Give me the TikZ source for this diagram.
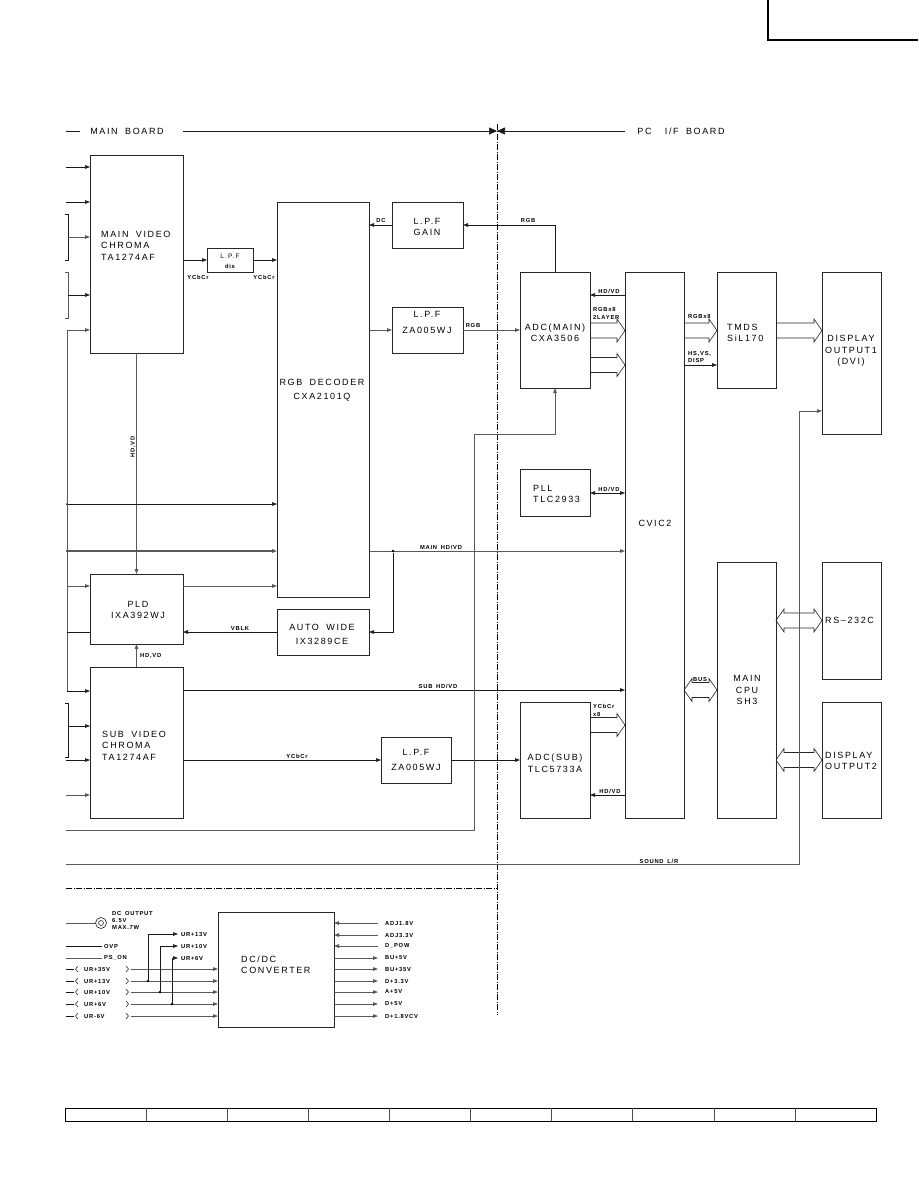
\documentclass[tikz,border=0pt]{standalone}
\usepackage{fontspec}
\setmainfont{Liberation Sans}
\newfontfamily\bigfont[LetterSpace=18,WordSpace=1.8]{Liberation Sans}
\newfontfamily\smallfont[LetterSpace=13,WordSpace=1.6]{Liberation Sans}
\usetikzlibrary{arrows.meta,calc}
\tikzset{
 box/.style={draw=black!85, line width=0.7pt, inner sep=0pt, outer sep=0pt},
 ln/.style={draw=black!90, line width=0.6pt},
 gln/.style={draw=black!65, line width=0.9pt},
 arr/.style={-{Triangle[length=5pt,width=3.6pt]}},
 darr/.style={{Triangle[length=5pt,width=3.6pt]}-{Triangle[length=5pt,width=3.6pt]}},
 hdarr/.style={-{Triangle[length=8pt,width=7pt]}},
 big/.style={font=\bigfont\fontsize{9}{11.5}\selectfont, inner sep=0pt},
 sm/.style={font=\smallfont\bfseries\fontsize{5.8}{7.5}\selectfont, inner sep=0pt},
 psm/.style={font=\smallfont\bfseries\fontsize{5.8}{7}\selectfont, inner sep=0pt},
 jdot/.style={circle, fill=black, inner sep=0pt, minimum size=2.6pt},
 bus/.style={draw=black!85, line width=0.6pt},
 dashdot/.style={draw=black, line width=0.7pt, dash pattern=on 6pt off 1.5pt on 1pt off 1.5pt},
}
\newcommand{\bx}[5]{\node[box, minimum width={(#4-#2)*1pt}, minimum height={(#5-#3)*1pt}] (#1) at ({(#2+#4)/2},{(#3+#5)/2}) {};}
\newcommand{\busa}[2]{\draw[bus] ($(#1)+(0,-7.5)$) -- ($(#2)+(-8,-7.5)$) -- ($(#2)+(-8,-11.5)$) -- (#2) -- ($(#2)+(-8,11.5)$) -- ($(#2)+(-8,7.5)$) -- ($(#1)+(0,7.5)$);}
\newcommand{\busb}[2]{\draw[bus] ($(#1)+(8,-7.5)$) -- ($(#2)+(-8,-7.5)$) -- ($(#2)+(-8,-11.5)$) -- (#2) -- ($(#2)+(-8,11.5)$) -- ($(#2)+(-8,7.5)$) -- ($(#1)+(8,7.5)$) -- ($(#1)+(8,11.5)$) -- (#1) -- ($(#1)+(8,-11.5)$) -- cycle;}
\begin{document}
\begin{tikzpicture}[x=1pt,y=-1pt]
\useasboundingbox (0,0) rectangle (918,1188);
\fill[white] (0,0) rectangle (918,1188);
% corner
\draw[line width=1.6pt] (768,0) -- (768,40) -- (918,40);
% header
\node[big] (mb) at (127,131) {MAIN BOARD};
\node[big] (pcb) at (681,131) {PC\hspace{6pt} I/F BOARD};
\coordinate (hl0) at (66,131); \coordinate (hl1) at (80,131);
\coordinate (hl2) at (183,131); \coordinate (hmid) at (497,131); \coordinate (hr) at (625,131);
\draw[ln] (hl0) -- (hl1);
\draw[ln,hdarr] (hl2) -- (hmid);
\draw[ln,hdarr] (hr) -- (hmid);
\draw[dashdot] (497,124) -- (497,1015);
\draw[dashdot] (66,888) -- (497,888);
% boxes
\bx{mainv}{90}{155}{183}{353}
\bx{lpfd}{207}{248}{253}{272}
\bx{rgbd}{277}{202}{369}{597}
\bx{lpfg}{392}{202}{463}{248}
\bx{lpfz}{392}{307}{463}{353}
\bx{adcm}{520}{272}{590}{388}
\bx{cvic}{625}{272}{684}{818}
\bx{tmds}{717}{272}{776}{388}
\bx{dsp1}{822}{272}{881}{434}
\bx{pll}{520}{469}{590}{516}
\bx{pld}{90}{574}{183}{644}
\bx{awide}{277}{609}{369}{655}
\bx{subv}{90}{667}{183}{818}
\bx{lpfs}{381}{737}{451}{783}
\bx{adcs}{520}{702}{590}{818}
\bx{cpu}{717}{562}{776}{818}
\bx{rs}{822}{562}{881}{679}
\bx{dsp2}{822}{702}{881}{818}
\bx{dcdc}{218}{912}{334}{1027}
% box texts
\node[big, anchor=west, align=left] (tmainv) at (101,245.5) {MAIN VIDEO\\CHROMA\\TA1274AF};
\node[font=\bigfont\fontsize{6.5}{8}\selectfont, inner sep=0pt] (tlpfd1) at (230,256) {L.P.F};
\node[sm] (tlpfd2) at (230,266) {dis};
\node[big, align=center] (trgbd) at (322,390) {RGB DECODER\\[2.5pt]CXA2101Q};
\node[big, align=center] (tlpfg) at (427,227) {L.P.F\\GAIN};
\node[big, align=center] (tlpfz) at (427,322) {L.P.F\\[4.5pt]ZA005WJ};
\node[big, align=center] (tadcm) at (555,333) {ADC(MAIN)\\CXA3506};
\node[big, anchor=west, align=left] (ttmds) at (727,333) {TMDS\\SiL170};
\node[big, align=center] (tdsp1) at (851,351) {DISPLAY\\OUTPUT1\\(DVI)};
\node[big] (tcvic) at (655,523) {CVIC2};
\node[big, anchor=west, align=left] (tpll) at (533,494) {PLL\\TLC2933};
\node[big, align=center] (tpld) at (138,610) {PLD\\IXA392WJ};
\node[big, align=center] (tawide) at (322,634) {AUTO WIDE\\[2.5pt]IX3289CE};
\node[big, anchor=west, align=left] (tsubv) at (102,745.5) {SUB VIDEO\\CHROMA\\TA1274AF};
\node[big, align=center] (tlpfs) at (416,760) {L.P.F\\[3.5pt]ZA005WJ};
\node[big, align=center] (tadcs) at (555,763.5) {ADC(SUB)\\TLC5733A};
\node[big, align=center] (tcpu) at (747,690) {MAIN\\CPU\\SH3};
\node[big, anchor=west] (trs) at (825,620) {RS–232C};
\node[big, anchor=west, align=left] (tdsp2) at (825,761) {DISPLAY\\OUTPUT2};
\node[big, anchor=west, align=left] (tdcdc) at (241,965) {DC/DC\\CONVERTER};
% main signal connectors
\draw[ln,arr] (mainv.east |- lpfd.west) -- (lpfd.west);
\draw[ln,arr] (lpfd.east) -- (rgbd.west |- lpfd.east);
\draw[ln,arr] (lpfg.west) -- (rgbd.east |- lpfg.west);
\draw[ln,arr] (adcm.north) -- (adcm.north |- lpfg.east) -- (lpfg.east);
\draw[gln,arr] (rgbd.east |- lpfz.west) -- (lpfz.west);
\draw[gln,arr] (lpfz.east) -- (adcm.west |- lpfz.east);
\draw[ln,arr] (cvic.west |- 0,295) -- (adcm.east |- 0,295);
\coordinate (b1s) at (adcm.east |- 0,330.5); \coordinate (b1e) at (cvic.west |- 0,330.5);
\coordinate (b2s) at (adcm.east |- 0,365); \coordinate (b2e) at (cvic.west |- 0,365);
\coordinate (b3s) at (cvic.east |- 0,330.5); \coordinate (b3e) at (tmds.west |- 0,330.5);
\coordinate (b4s) at (tmds.east |- 0,330.5); \coordinate (b4e) at (dsp1.west |- 0,330.5);
\busa{b1s}{b1e}
\busa{b2s}{b2e}
\busa{b3s}{b3e}
\busa{b4s}{b4e}
\draw[ln,arr] (cvic.east |- 0,365) -- (tmds.west |- 0,365);
\draw[ln,darr] (pll.east |- 0,493) -- (cvic.west |- 0,493);
\draw[gln,arr] (rgbd.east |- 0,551) -- (cvic.west |- 0,551);
\node[jdot] (j1) at (393,551) {};
\draw[ln,arr] (j1) -- (j1 |- 0,632) -- (awide.east |- 0,632);
\draw[ln,arr] (awide.west |- 0,632) -- (pld.east |- 0,632);
\draw[gln,arr] (pld.east |- 0,586) -- (rgbd.west |- 0,586);
\draw[gln,arr] (mainv.south) -- (pld.north);
\draw[gln,arr] (subv.north) -- (pld.south);
\draw[ln,arr] (subv.east |- 0,690) -- (cvic.west |- 0,690);
\draw[ln,arr] (subv.east |- lpfs.west) -- (lpfs.west);
\draw[ln,arr] (lpfs.east) -- (adcs.west |- lpfs.east);
\coordinate (b5s) at (adcs.east |- 0,725); \coordinate (b5e) at (cvic.west |- 0,725);
\busa{b5s}{b5e}
\draw[ln,arr] (cvic.west |- 0,795) -- (adcs.east |- 0,795);
\coordinate (b6s) at (cvic.east |- 0,690); \coordinate (b6e) at (cpu.west |- 0,690);
\busb{b6s}{b6e}
\coordinate (b7s) at (cpu.east |- rs.west);
\busb{b7s}{rs.west}
\coordinate (b8s) at (cpu.east |- dsp2.west);
\busb{b8s}{dsp2.west}
% left inputs
\coordinate (i1) at (66,167); \coordinate (i2) at (66,202);
\coordinate (i3) at (68,237); \coordinate (i4) at (68,295); \coordinate (i5) at (67,330);
\coordinate (i7) at (66,551); \coordinate (i8) at (67,586); \coordinate (i9) at (67,632);
\coordinate (i10) at (67,691); \coordinate (i11) at (68,726); \coordinate (i12) at (66,760);
\coordinate (i13) at (66,795); \coordinate (i14) at (66,830); \coordinate (i15) at (66,864);
\node[jdot, minimum size=2pt] (i6) at (67,504) {};
\draw[ln,arr] (i1) -- (mainv.west |- i1);
\draw[ln,arr] (i2) -- (mainv.west |- i2);
\draw[ln] (65,214) -- (68,214) -- (68,260) -- (65,260);
\draw[gln,arr] (i3) -- (mainv.west |- i3);
\draw[gln] (65,272) -- (68,272) -- (68,318) -- (65,318);
\draw[ln,arr] (i4) -- (mainv.west |- i4);
\draw[gln,arr] (i5) -- (mainv.west |- i5);
\draw[gln] (i5) -- (i10);
\draw[ln,arr] (i6) -- (rgbd.west |- i6);
\draw[gln,line width=1.2pt,arr] (i7) -- (rgbd.west |- i7);
\draw[gln,arr] (i8) -- (pld.west |- i8);
\draw[ln] (i9) -- (pld.west |- i9);
\draw[ln,arr] (i10) -- (subv.west |- i10);
\draw[ln] (65,703) -- (68,703) -- (68,757) -- (65,757);
\draw[ln,arr] (i11) -- (subv.west |- i11);
\draw[ln,arr] (i12) -- (subv.west |- i12);
\draw[gln,arr] (i13) -- (subv.west |- i13);
\coordinate (c1) at (474,830); \coordinate (c2) at (474,434);
\draw[gln,arr] (i14) -- (c1) -- (c2) -- (adcm.south |- c2) -- (adcm.south);
\coordinate (c3) at (799,864); \coordinate (c4) at (799,411);
\draw[gln,arr] (i15) -- (c3) -- (c4) -- (dsp1.west |- c4);
% small labels
\node[sm] (lyc1) at (198,277) {YCbCr};
\node[sm] (lyc2) at (264,277) {YCbCr};
\node[sm] (ldc) at (381,221) {DC};
\node[sm] (lrgb1) at (528,221) {RGB};
\node[sm] (lrgb2) at (473,326) {RGB};
\node[sm] (lhd1) at (609,291) {HD/VD};
\node[sm, anchor=west, align=left, font=\smallfont\bfseries\fontsize{5.8}{8}\selectfont] (lrgbx) at (593,313) {RGBx8\\2LAYER};
\node[sm, anchor=west] (lrgbx2) at (688,317) {RGBx8};
\node[sm, anchor=west, align=left] (lhs) at (688,357) {HS,VS,\\DISP};
\node[sm, rotate=90] (lhdv1) at (133,447) {HD,VD};
\node[sm] (lmhd) at (441,547) {MAIN HD/VD};
\node[sm] (lvblk) at (240,628) {VBLK};
\node[sm] (lhd2) at (609,489) {HD/VD};
\node[sm, anchor=west] (lhdv2) at (140,656) {HD,VD};
\node[sm] (lshd) at (438,686) {SUB HD/VD};
\node[sm] (lyc3) at (297,756) {YCbCr};
\node[sm] (lbus) at (700,679) {BUS};
\node[sm, anchor=west, align=left] (lycx) at (593,710.5) {YCbCr\\x8};
\node[sm] (lhd3) at (610,791) {HD/VD};
\node[sm] (lsnd) at (659,861) {SOUND L/R};
% power section
\coordinate (p0) at (66,923);
\node[draw=black!80, circle, minimum size=11pt, inner sep=0pt, line width=0.7pt] (dco) at (101,923) {};
\node[draw=black!80, circle, minimum size=5pt, inner sep=0pt, line width=0.6pt] (dcoi) at (101,923) {};
\draw[gln] (p0) -- (dco.west);
\node[psm, anchor=north west, align=left] (tdco) at (112,911.5) {DC OUTPUT\\6.5V\\MAX.7W};
\coordinate (povp) at (66,946); \coordinate (povpe) at (102,946);
\draw[ln] (povp) -- (povpe);
\node[psm, anchor=west] (tovp) at (104,946) {OVP};
\coordinate (pps) at (66,958); \coordinate (ppse) at (102,958);
\draw[gln] (pps) -- (ppse);
\node[psm, anchor=west] (tps) at (104,958) {PS\_ON};
\foreach \y/\t in {969/UR+35V,981/UR+13V,992/UR+10V,1004/UR+6V,1016/UR-6V}{
  \draw[ln] (66,\y) -- (74,\y);
  \draw[ln, line width=0.5pt] (78,\y-3) -- (75.5,\y) -- (78,\y+3);
  \node[psm, anchor=west] at (84,\y) {\t};
  \draw[ln, line width=0.5pt] (126,\y-3) -- (128.5,\y) -- (126,\y+3);
  \coordinate (r\y) at (131,\y);
  \draw[gln,arr] (r\y) -- (dcdc.west |- r\y);
}
\node[jdot] (t13) at (148,981) {};
\node[jdot] (t10) at (160,992) {};
\node[jdot] (t6) at (172,1004) {};
\coordinate (a13) at (178,934); \coordinate (a10) at (178,946); \coordinate (a6) at (178,958);
\draw[ln,arr] (t13) -- (t13 |- a13) -- (a13);
\draw[ln,arr] (t10) -- (t10 |- a10) -- (a10);
\draw[ln,arr] (t6) -- (t6 |- a6) -- (a6);
\node[psm, anchor=west] at (181,934) {UR+13V};
\node[psm, anchor=west] at (181,946) {UR+10V};
\node[psm, anchor=west] at (181,958) {UR+6V};
\foreach \y/\t in {923/ADJ1.8V,935/ADJ3.3V,946/D\_POW}{
  \coordinate (q\y) at (378,\y);
  \draw[gln,arr] (q\y) -- (dcdc.east |- q\y);
  \node[psm, anchor=west] at (385,\y) {\t};
}
\foreach \y/\t in {958/BU+5V,969/BU+35V,981/D+3.3V,992/A+5V,1004/D+5V,1016/D+1.8VCV}{
  \coordinate (q\y) at (378,\y);
  \draw[gln,arr] (dcdc.east |- q\y) -- (q\y);
  \node[psm, anchor=west] at (385,\y) {\t};
}
% bottom table
\draw[line width=1pt] (65,1108) rectangle (876,1121);
\foreach \i in {1,...,9}{ \draw[line width=0.6pt, black!70] ({65+\i*81.1},1108) -- ({65+\i*81.1},1121); }
\end{tikzpicture}
\end{document}
